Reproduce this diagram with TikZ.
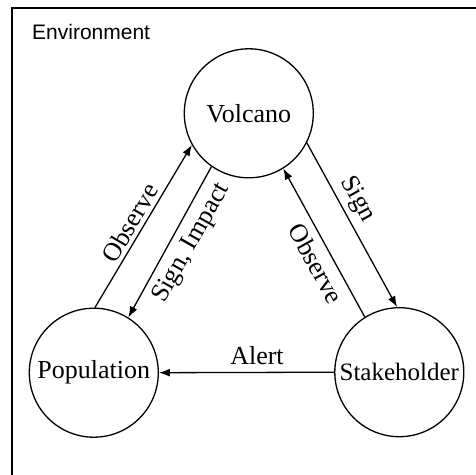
\documentclass[tikz,border=0pt]{standalone}
\usepackage{fontspec}
\setmainfont{Liberation Serif}
\newfontfamily\envfont{Liberation Sans}
\usetikzlibrary{arrows.meta}
\begin{document}
\begin{tikzpicture}[x=1pt,y=1pt,
  agent/.style={draw, circle, line width=1.3pt, minimum size=129pt, inner sep=0pt,
    font=\fontsize{26}{30}\selectfont},
  arr/.style={line width=1.3pt, -{Latex[length=11pt,width=8pt]}},
  lbl/.style={font=\fontsize{26}{30}\selectfont, inner sep=0pt},
  frame/.style={line width=1.8pt}]
\useasboundingbox (0,0) rectangle (476,-474);
\fill[white] (0,0) rectangle (476,-474);
\draw[frame] (490,-8) -- (12,-8) -- (12,-490);
\node[anchor=base west, inner sep=0pt, font=\envfont\fontsize{21}{24}\selectfont] (env) at (32,-39) {Environment};

\node[agent] (V) at (248.8,-113.3) {Volcano};
\node[agent] (P) at (93.8,-372.7) {Population};
\node[agent, font=\fontsize{25}{30}\selectfont] (S) at (399.3,-372.2) {Stakeholder};

\draw[arr] (P.89) -- (V.209);
\draw[arr] (V.235.6) -- (P.58.4);
\draw[arr] (V.-27) -- (S.92.1);
\draw[arr] (S.122.3) -- (V.-58.7);
\draw[arr] (S.west) -- (P.east);

\node[lbl, rotate=59.5] (l1) at (130,-222.7) {Observe};
\node[lbl, rotate=60.5] (l2) at (191.7,-243.3) {Sign, Impact};
\node[lbl, rotate=-61.4] (l3) at (357.3,-199.3) {Sign};
\node[lbl, rotate=-61] (l4) at (316,-263.3) {Observe};
\node[lbl] (l5) at (257,-356) {Alert};
\end{tikzpicture}
\end{document}
